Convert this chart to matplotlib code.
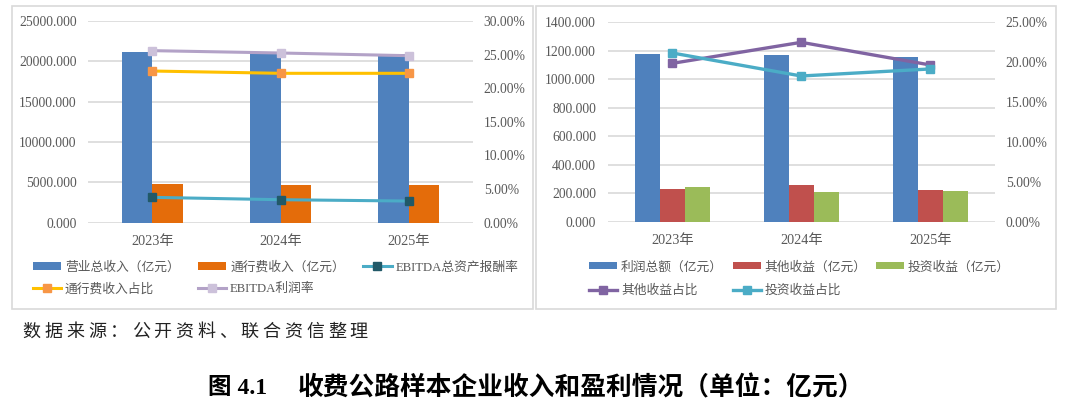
import matplotlib
matplotlib.use("Agg")
import matplotlib.pyplot as plt
from matplotlib.patches import Rectangle
from matplotlib.ticker import FixedLocator, FuncFormatter
import numpy as np

plt.rcParams['font.family'] = ['Liberation Serif', 'Noto Sans CJK SC', 'DejaVu Sans']

years = ['2023年', '2024年', '2025年']

# left chart (亿元 / %)
revenue = [21120, 20990, 20960]
toll_income = [4790, 4670, 4670]
ebitda_roa = [3.77, 3.42, 3.22]
toll_share = [22.56, 22.22, 22.22]
ebitda_margin = [25.59, 25.24, 24.84]

# right chart
total_profit = [1173, 1169, 1153]
other_income = [231, 259, 224]
invest_income = [245, 210, 219]
other_share = [19.83, 22.46, 19.63]
invest_share = [21.13, 18.25, 19.13]

W, H = 1080, 408
fig = plt.figure(figsize=(W / 100, H / 100), dpi=100)
fig.patch.set_facecolor('white')

GRAY_TXT = '#595959'
GRID = '#d9d9d9'


def px_axes(x0, y0, x1, y1):
    return fig.add_axes([x0 / W, 1 - y1 / H, (x1 - x0) / W, (y1 - y0) / H])


def style(ax, ax2, ymax, ystep, pmax, lpad, rpad):
    for a in (ax, ax2):
        for s in a.spines.values():
            s.set_visible(False)
        a.tick_params(length=0, labelsize=9.8, labelcolor=GRAY_TXT)
    ax.set_xlim(-0.5, 2.5)
    ax.set_ylim(0, ymax)
    ax.yaxis.set_major_locator(FixedLocator(np.arange(0, ymax + 1, ystep)))
    ax.yaxis.set_major_formatter(FuncFormatter(lambda v, p: f'{v:.3f}'))
    ax.grid(axis='y', color=GRID, lw=1.2)
    ax.set_axisbelow(True)
    ax.tick_params(axis='y', pad=lpad)
    ax.tick_params(axis='x', pad=8.8, labelsize=10.3)
    ax.set_xticks(range(len(years)))
    ax.set_xticklabels(years)
    ax2.set_ylim(0, pmax)
    ax2.yaxis.set_major_locator(FixedLocator(np.arange(0, pmax + 0.01, 5)))
    ax2.yaxis.set_major_formatter(FuncFormatter(lambda v, p: f'{v:.2f}%'))
    ax2.tick_params(axis='y', pad=rpad)


x = np.arange(len(years))

# ---------- left panel ----------
ax = px_axes(88.3, 21, 472.7, 222.7)
ax2 = ax.twinx()
style(ax, ax2, 25000, 5000, 30, 8.4, 8.0)

bw = 0.24
b1 = ax.bar(x - bw / 2, revenue, bw, color='#4f81bd', label='营业总收入（亿元）')
b2 = ax.bar(x + bw / 2, toll_income, bw, color='#e46c0a', label='通行费收入（亿元）')
l1, = ax2.plot(x, ebitda_roa, color='#4bacc6', lw=2.2, marker='s', ms=5.5,
               mfc='#215968', mec='#215968', label='EBITDA总资产报酬率')
l2, = ax2.plot(x, toll_share, color='#ffc000', lw=2.2, marker='s', ms=5.5,
               mfc='#f79646', mec='#f79646', label='通行费收入占比')
l3, = ax2.plot(x, ebitda_margin, color='#b3a2c7', lw=2.2, marker='s', ms=5.5,
               mfc='#ccc1da', mec='#ccc1da', label='EBITDA利润率')

fig.legend([b1, l2, b2, l3, l1],
           [h.get_label() for h in [b1, l2, b2, l3, l1]],
           loc='upper left', bbox_to_anchor=(33 / W, 1 - 261 / H),
           ncol=3, frameon=False, fontsize=9.2, borderpad=0, borderaxespad=0,
           handlelength=2.2, handleheight=0.48, handletextpad=0.3,
           columnspacing=1.45, labelspacing=0.72, labelcolor=GRAY_TXT)

# ---------- right panel ----------
bx = px_axes(607.7, 22, 994.7, 222)
bx2 = bx.twinx()
style(bx, bx2, 1400, 200, 25, 8.4, 8.0)

bw = 0.193
c1 = bx.bar(x - bw, total_profit, bw, color='#4f81bd', label='利润总额（亿元）')
c2 = bx.bar(x, other_income, bw, color='#c0504d', label='其他收益（亿元）')
c3 = bx.bar(x + bw, invest_income, bw, color='#9bbb59', label='投资收益（亿元）')
m1, = bx2.plot(x, other_share, color='#8064a2', lw=2.4, marker='s', ms=5.5,
               label='其他收益占比')
m2, = bx2.plot(x, invest_share, color='#4bacc6', lw=2.4, marker='s', ms=5.5,
               label='投资收益占比')

fig.legend([c1, m1, c2, m2, c3],
           [h.get_label() for h in [c1, m1, c2, m2, c3]],
           loc='upper left', bbox_to_anchor=(589 / W, 1 - 261 / H),
           ncol=3, frameon=False, fontsize=9.2, borderpad=0, borderaxespad=0,
           handlelength=2.2, handleheight=0.48, handletextpad=0.3,
           columnspacing=0.75, labelspacing=0.88, labelcolor=GRAY_TXT)

# panel frames
for (x0, y0, x1, y1) in [(12.3, 5.7, 533, 309), (536, 5.5, 1056, 309)]:
    fig.patches.append(Rectangle((x0 / W, 1 - y1 / H), (x1 - x0) / W, (y1 - y0) / H,
                                 transform=fig.transFigure, fill=False,
                                 ec=GRID, lw=1.2))

# source note, spaced characters
src = '数据来源：公开资料、联合资信整理'
for i, ch in enumerate(src):
    fig.text((22.7 + 21.8 * i) / W, 1 - 331.7 / H, ch, fontsize=13,
             family=['Noto Sans CJK SC'], color='#222222', va='center', ha='left')

# caption
fig.text(208 / W, 1 - 388 / H, '图 4.1', fontsize=17, weight='bold',
         color='black', va='center', ha='left')
fig.text(298 / W, 1 - 388 / H, '收费公路样本企业收入和盈利情况（单位：亿元）',
         fontsize=18.5, weight='bold', family=['Noto Sans CJK SC'],
         color='black', va='center', ha='left')

fig.savefig('out.png', dpi=100, facecolor='white')
